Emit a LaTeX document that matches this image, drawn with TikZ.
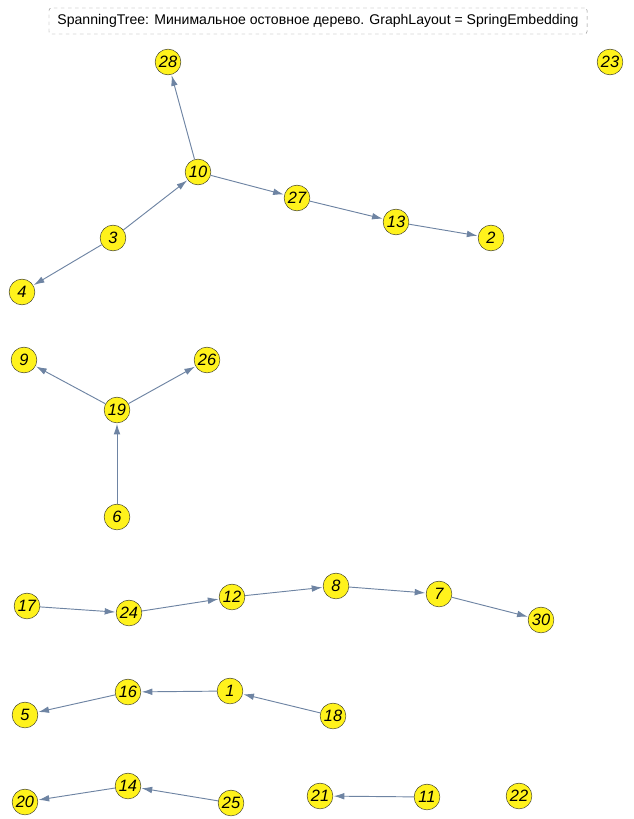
\documentclass[tikz,border=0pt]{standalone}
\usepackage{fontspec}
\setmainfont{Liberation Sans}
\usetikzlibrary{arrows.meta}
\definecolor{vyellow}{HTML}{FFF21C}
\definecolor{vedge}{HTML}{6E84A3}
\definecolor{vline}{HTML}{3A3A2A}
\definecolor{tgray}{HTML}{8A8A8A}

\begin{document}
\begin{tikzpicture}[x=0.03cm, y=-0.03cm,
     vert/.style={circle, draw=vline, thin, fill=vyellow, minimum size=22pt, inner sep=0pt, font=\fontsize{14}{14}\selectfont\itshape},
     a/.style={-{Latex[length=3.2mm, width=2mm]}, vedge, thick, shorten >=0.5pt}]
    \useasboundingbox (0,0) rectangle (633,819);
    \node[draw=tgray, dashed, rounded corners=2pt, minimum width=16.14cm, minimum height=0.78cm,
          inner sep=0pt, font=\fontsize{12}{14}\selectfont] (title) at (318,21)
          {SpanningTree: Минимальное остовное дерево. GraphLayout = SpringEmbedding};
    % first tree
    \node[vert] (v28) at (168,62) {28};
    \node[vert] (v23) at (610,62) {23};
    \node[vert] (v10) at (198,172) {10};
    \node[vert] (v27) at (297,198) {27};
    \node[vert] (v13) at (396,222) {13};
    \node[vert] (v2) at (491,238) {2};
    \node[vert] (v3) at (113,238) {3};
    \node[vert] (v4) at (22,292) {4};
    \draw[a] (v10) -- (v28);
    \draw[a] (v3) -- (v10);
    \draw[a] (v3) -- (v4);
    \draw[a] (v10) -- (v27);
    \draw[a] (v27) -- (v13);
    \draw[a] (v13) -- (v2);
    % second tree
    \node[vert] (v9) at (24,360) {9};
    \node[vert] (v26) at (207,360) {26};
    \node[vert] (v19) at (117,410) {19};
    \node[vert] (v6) at (117,517) {6};
    \draw[a] (v19) -- (v9);
    \draw[a] (v19) -- (v26);
    \draw[a] (v6) -- (v19);
    % chain
    \node[vert] (v17) at (27,606) {17};
    \node[vert] (v24) at (129,613) {24};
    \node[vert] (v12) at (232,597) {12};
    \node[vert] (v8) at (336,586) {8};
    \node[vert] (v7) at (439,594) {7};
    \node[vert] (v30) at (541,620) {30};
    \draw[a] (v17) -- (v24);
    \draw[a] (v24) -- (v12);
    \draw[a] (v12) -- (v8);
    \draw[a] (v8) -- (v7);
    \draw[a] (v7) -- (v30);
    % small trees
    \node[vert] (v16) at (128,692) {16};
    \node[vert] (v1) at (230,691) {1};
    \node[vert] (v5) at (25,715) {5};
    \node[vert] (v18) at (333,716) {18};
    \draw[a] (v1) -- (v16);
    \draw[a] (v16) -- (v5);
    \draw[a] (v18) -- (v1);
    \node[vert] (v14) at (128,786) {14};
    \node[vert] (v20) at (25,802) {20};
    \node[vert] (v25) at (231,803) {25};
    \node[vert] (v21) at (320,796) {21};
    \node[vert] (v11) at (427,797) {11};
    \node[vert] (v22) at (519,796) {22};
    \draw[a] (v14) -- (v20);
    \draw[a] (v25) -- (v14);
    \draw[a] (v11) -- (v21);
\end{tikzpicture}
\end{document}
